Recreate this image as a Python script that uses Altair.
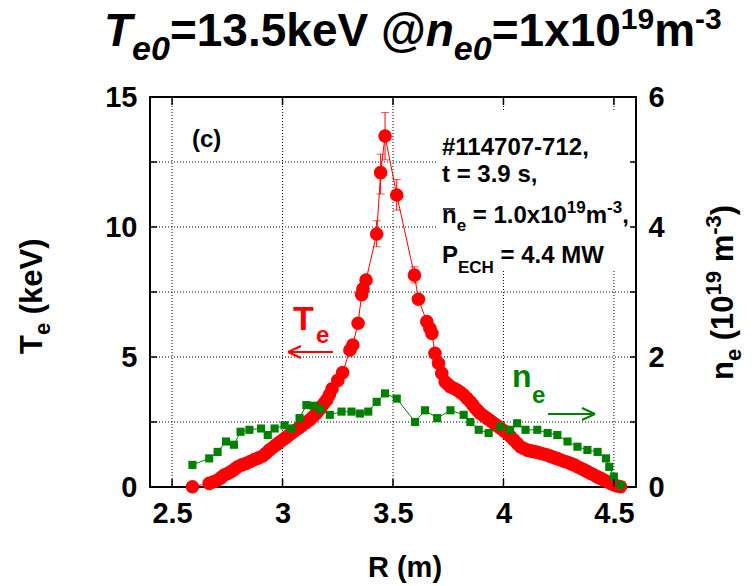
import altair as alt
import pandas as pd

# ---------------- data ----------------
R_te = [2.592, 2.668, 2.688, 2.706, 2.722, 2.736, 2.752, 2.767, 2.782, 2.797,
        2.816, 2.835, 2.854, 2.873, 2.891, 2.910, 2.925, 2.940, 2.956, 2.971,
        2.986, 3.000, 3.015, 3.030, 3.045, 3.060, 3.075, 3.090, 3.106, 3.123,
        3.138, 3.153, 3.165, 3.176, 3.188, 3.200, 3.212, 3.224, 3.250, 3.272,
        3.305, 3.318, 3.342, 3.358, 3.364, 3.378, 3.426, 3.444, 3.464, 3.517,
        3.597, 3.615, 3.653, 3.667, 3.676, 3.690, 3.706, 3.721, 3.736, 3.748,
        3.759, 3.775, 3.790, 3.805, 3.820, 3.835, 3.850, 3.862, 3.873, 3.884,
        3.895, 3.910, 3.926, 3.941, 3.956, 3.971, 3.986, 4.002, 4.017, 4.032,
        4.047, 4.062, 4.077, 4.092, 4.108, 4.123, 4.138, 4.153, 4.168, 4.184,
        4.199, 4.214, 4.229, 4.244, 4.259, 4.274, 4.290, 4.305, 4.320, 4.335,
        4.350, 4.365, 4.380, 4.395, 4.410, 4.425, 4.440, 4.455, 4.470, 4.486,
        4.500, 4.515, 4.530]
Te = [0.01, 0.14, 0.20, 0.27, 0.36, 0.46, 0.52, 0.59, 0.68, 0.78,
      0.85, 0.91, 0.98, 1.06, 1.12, 1.19, 1.30, 1.42, 1.52, 1.62,
      1.72, 1.81, 1.90, 2.00, 2.10, 2.19, 2.28, 2.38, 2.47, 2.58,
      2.70, 2.83, 2.96, 3.09, 3.22, 3.35, 3.55, 3.78, 4.10, 4.40,
      5.27, 5.46, 6.30, 7.40, 7.62, 7.96, 9.73, 12.09, 13.50, 11.23,
      8.15, 7.22, 6.36, 6.10, 5.91, 5.14, 4.76, 4.37, 4.05, 3.95,
      3.86, 3.80, 3.73, 3.64, 3.54, 3.41, 3.28, 3.15, 3.03, 2.93,
      2.83, 2.74, 2.64, 2.55, 2.45, 2.36, 2.26, 2.16, 2.06, 1.94,
      1.81, 1.68, 1.55, 1.48, 1.42, 1.39, 1.36, 1.33, 1.30, 1.26,
      1.23, 1.18, 1.13, 1.09, 1.04, 0.99, 0.95, 0.90, 0.85, 0.78,
      0.72, 0.66, 0.59, 0.52, 0.46, 0.39, 0.33, 0.27, 0.20, 0.14,
      0.08, 0.04, 0.01]

R_ne = [2.592, 2.668, 2.706, 2.744, 2.780, 2.810, 2.850, 2.903, 2.933, 2.964,
        3.009, 3.040, 3.077, 3.108, 3.140, 3.170, 3.214, 3.267, 3.312, 3.350,
        3.388, 3.426, 3.464, 3.517, 3.600, 3.645, 3.700, 3.760, 3.820, 3.850,
        3.888, 3.933, 3.986, 4.030, 4.062, 4.100, 4.153, 4.200, 4.244, 4.290,
        4.335, 4.380, 4.426, 4.464, 4.479, 4.500, 4.530]
ne = [0.34, 0.44, 0.54, 0.70, 0.65, 0.85, 0.88, 0.90, 0.80, 0.90,
      0.95, 0.90, 1.06, 1.26, 1.25, 1.20, 1.11, 1.16, 1.16, 1.13,
      1.16, 1.31, 1.44, 1.36, 1.00, 1.18, 1.06, 1.18, 1.11, 1.00,
      0.88, 0.83, 0.93, 0.88, 0.98, 0.88, 0.88, 0.83, 0.80, 0.70,
      0.62, 0.57, 0.54, 0.44, 0.31, 0.16, 0.03]

err_R = [3.426, 3.444, 3.464, 3.517, 3.597]
err_lo = [9.24, 11.27, 12.58, 10.65, 7.85]
err_hi = [10.24, 12.80, 14.40, 11.83, 8.47]

x_ticks = [2.5, 3.0, 3.5, 4.0, 4.5]
te_labels = [0, 5, 10, 15]
te_grid = [2.5, 5, 7.5, 10, 12.5]
ne_labels = [0, 2, 4, 6]
ne_minor = [1, 2, 3, 4, 5]

# ---------------- layout / style ----------------
W, H = 486, 390
L, T = 150, 97
FONT = "Liberation Sans"
RED = "#ff0000"
GREEN = "#008000"

df_te = pd.DataFrame({"R": R_te, "Te": Te})
df_ne = pd.DataFrame({"R": R_ne, "ne": ne})
df_err = pd.DataFrame({"R": err_R, "lo": err_lo, "hi": err_hi})

xs = alt.Scale(domain=[2.4, 4.6], nice=False, zero=False)
ys_te = alt.Scale(domain=[0, 15], nice=False, zero=False)
ys_ne = alt.Scale(domain=[0, 6], nice=False, zero=False)

lab = dict(labelFont=FONT, labelFontSize=29, labelFontWeight="bold",
           labelColor="black", ticks=False, domain=False, grid=False, title=None)
xaxis = alt.Axis(values=x_ticks, format="~g", labelPadding=12, labelFlush=False, **lab)


def X(field="R"):
    return alt.X(f"{field}:Q", scale=xs, axis=xaxis)


WID = {" ": 278, "#": 556, "(": 333, ")": 333, ",": 278, "-": 333, ".": 278,
       "=": 584, "@": 975, "C": 722, "E": 667, "H": 722, "M": 833, "P": 667,
       "R": 722, "T": 611, "V": 667, "W": 944, "c": 556, "e": 556, "k": 556,
       "m": 889, "n": 611, "s": 556, "t": 333, "x": 556}


def tw(s, size):
    return sum(WID.get(c, 556) for c in s) / 1000.0 * size


def txt(s, x, y, size, angle=0, italic=False, color="black", align="left"):
    kw = dict(font=FONT, fontSize=size, fontWeight="bold", color=color,
              align=align, baseline="alphabetic")
    if italic:
        kw["fontStyle"] = "italic"
    if angle:
        kw["angle"] = angle
    return alt.Chart(pd.DataFrame({"t": [s]})).mark_text(**kw).encode(
        text="t:N", x=alt.value(x - L), y=alt.value(y - T))


def rich(pieces, x0, y0, angle=0, color="black"):
    out = []
    adv = 0.0
    for s, size, shift, italic in pieces:
        lead = len(s) - len(s.lstrip(" "))
        adv += tw(" " * lead, size)
        s2 = s.lstrip(" ")
        if angle == 0:
            x, y = x0 + adv, y0 + shift
        else:
            x, y = x0 + shift, y0 - adv
        out.append(txt(s2, x, y, size, angle, italic, color))
        adv += tw(s2, size)
    return out


def seg(x1, y1, x2, y2, color, width=1.5):
    return alt.Chart(pd.DataFrame({"a": [0]})).mark_rule(
        color=color, strokeWidth=width).encode(
        x=alt.value(x1 - L), y=alt.value(y1 - T),
        x2=alt.value(x2 - L), y2=alt.value(y2 - T))


layers = []

# grid
layers.append(alt.Chart(pd.DataFrame({"R": x_ticks})).mark_rule(
    color="black", strokeWidth=1, strokeDash=[1, 2]).encode(
    x=X(), y=alt.value(0), y2=alt.value(H)))
layers.append(alt.Chart(pd.DataFrame({"Te": te_grid})).mark_rule(
    color="black", strokeWidth=1, strokeDash=[1, 2]).encode(
    y=alt.Y("Te:Q", scale=ys_te, axis=None), x=alt.value(0), x2=alt.value(W)))

# white box behind the annotation
layers.append(alt.Chart(pd.DataFrame({"a": [0]})).mark_rect(color="white").encode(
    x=alt.value(437 - L), x2=alt.value(632 - L),
    y=alt.value(111 - T), y2=alt.value(270 - T)))

# Te
layers.append(alt.Chart(df_te).mark_line(color=RED, strokeWidth=1).encode(
    x=X(), y=alt.Y("Te:Q", scale=ys_te, axis=None)))
layers.append(alt.Chart(df_err).mark_rule(color=RED, strokeWidth=1).encode(
    x=X(), y=alt.Y("lo:Q", scale=ys_te, axis=None), y2="hi:Q"))
layers.append(alt.Chart(df_err).mark_tick(color=RED, orient="horizontal", size=8, thickness=1).encode(
    x=X(), y=alt.Y("hi:Q", scale=ys_te, axis=None)))
layers.append(alt.Chart(df_err).mark_tick(color=RED, orient="horizontal", size=8, thickness=1).encode(
    x=X(), y=alt.Y("lo:Q", scale=ys_te, axis=None)))
layers.append(alt.Chart(df_te).mark_circle(color=RED, size=185, opacity=1).encode(
    x=X(),
    y=alt.Y("Te:Q", scale=ys_te,
            axis=alt.Axis(values=te_labels, orient="left", labelPadding=13, **lab))))

# ne
layers.append(alt.Chart(df_ne).mark_line(color=GREEN, strokeWidth=1).encode(
    x=X(), y=alt.Y("ne:Q", scale=ys_ne, axis=None)))
layers.append(alt.Chart(df_ne).mark_square(color=GREEN, size=66, opacity=1).encode(
    x=X(),
    y=alt.Y("ne:Q", scale=ys_ne,
            axis=alt.Axis(values=ne_labels, orient="right", labelPadding=12, **lab))))

# inward ticks
layers.append(alt.Chart(pd.DataFrame({"R": x_ticks})).mark_rule(color="black", strokeWidth=1.5).encode(
    x=X(), y=alt.value(H), y2=alt.value(H - 8)))
layers.append(alt.Chart(pd.DataFrame({"R": x_ticks})).mark_rule(color="black", strokeWidth=1.5).encode(
    x=X(), y=alt.value(0), y2=alt.value(8)))
layers.append(alt.Chart(pd.DataFrame({"Te": te_grid})).mark_rule(color="black", strokeWidth=1.5).encode(
    y=alt.Y("Te:Q", scale=ys_te, axis=None), x=alt.value(0), x2=alt.value(7)))
layers.append(alt.Chart(pd.DataFrame({"ne": ne_minor})).mark_rule(color="black", strokeWidth=1.5).encode(
    y=alt.Y("ne:Q", scale=ys_ne, axis=None), x=alt.value(W), x2=alt.value(W - 6)))

# title
layers += rich([("T", 46, 0, True), ("e0", 34, 14, True), ("=13.5keV @", 46, 0, False),
                ("n", 46, 0, True), ("e0", 34, 14, True), ("=1x10", 46, 0, False),
                ("19", 30, -17, False), ("m", 46, 0, False), ("-3", 30, -17, False)],
               104, 46)

# annotation
layers.append(txt("(c)", 192, 147, 24))
layers.append(txt("#114707-712,", 442, 155, 24))
layers.append(txt("t = 3.9 s,", 442, 182, 24))
layers += rich([("n", 24, 0, False), ("e", 17, 8, False), (" = 1.0x10", 24, 0, False),
                ("19", 17, -10, False), ("m", 24, 0, False), ("-3", 17, -10, False),
                (",", 24, 0, False)], 442, 223)
layers.append(seg(443, 209, 455, 209, "black", 1.5))
layers += rich([("P", 24, 0, False), ("ECH", 17, 10, False), (" = 4.4 MW", 24, 0, False)], 442, 263)

# series labels and arrows
layers.append(txt("T", 293, 330, 34, color=RED))
layers.append(txt("e", 316, 343, 24, color=RED))
layers.append(seg(333, 352, 289, 352, RED, 2))
layers.append(seg(288, 352, 301, 346, RED, 2))
layers.append(seg(288, 352, 301, 358, RED, 2))

layers.append(txt("n", 512, 387, 32, color=GREEN))
layers.append(txt("e", 532, 403, 24, color=GREEN))
layers.append(seg(548, 414, 594, 414, GREEN, 2))
layers.append(seg(595, 414, 582, 408, GREEN, 2))
layers.append(seg(595, 414, 582, 420, GREEN, 2))

# axis titles
layers.append(txt("R (m)", 405, 577, 29, align="center"))
layers += rich([("T", 31, 0, False), ("e", 22, 8, False), (" (keV)", 31, 0, False)],
               42, 354, angle=270)
layers += rich([("n", 31, 0, False), ("e", 22, 8, False), (" (10", 31, 0, False),
                ("19", 22, -12, False), (" m", 31, 0, False), ("-3", 22, -12, False),
                (")", 31, 0, False)], 733, 380, angle=270)

chart = alt.layer(*layers).resolve_scale(y="independent").properties(
    width=W, height=H,
    autosize=alt.AutoSizeParams(type="none"),
    padding={"left": L, "top": T, "right": 756 - L - W, "bottom": 586 - T - H},
    background="white",
).configure_view(stroke="black", strokeWidth=2)

chart.save("out.html", embed_options={"renderer": "svg", "actions": False})
